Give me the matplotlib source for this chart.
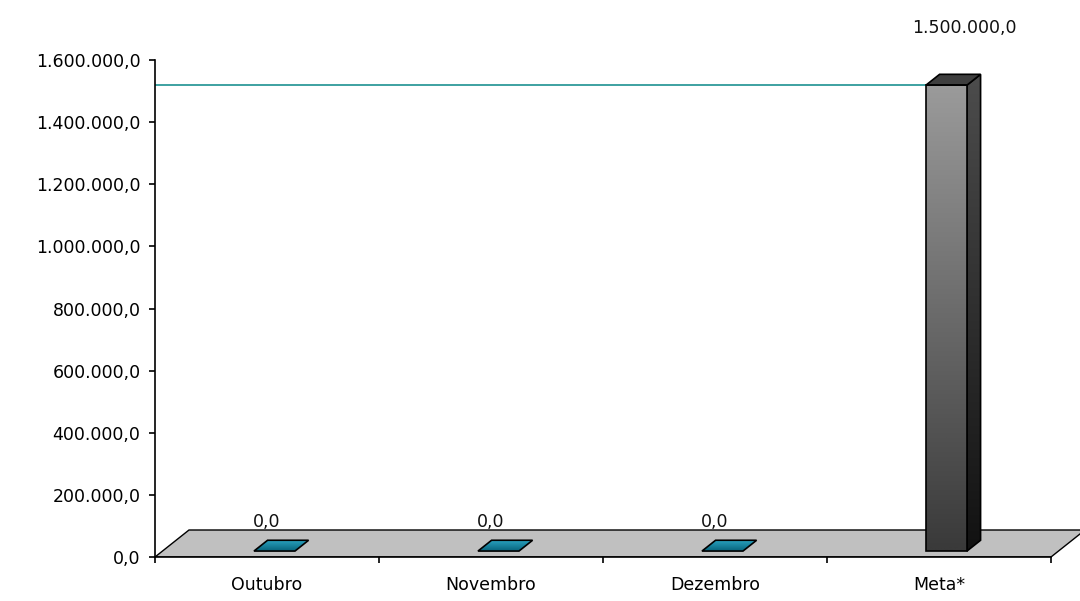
import matplotlib
matplotlib.use("Agg")
import matplotlib.pyplot as plt
import numpy as np
from matplotlib.patches import Polygon
from matplotlib.ticker import FixedLocator, FuncFormatter, NullFormatter

# ---- data ----
categories = ["Outubro", "Novembro", "Dezembro", "Meta*"]
values = [0.0, 0.0, 0.0, 1500000.0]
target = 1500000.0
y_ticks = [0, 200000, 400000, 600000, 800000, 1000000, 1200000, 1400000, 1600000]

plt.rcParams['font.family'] = ['DejaVu Sans']
FS = 12.5

W, H = 1080, 601
fig = plt.figure(figsize=(W / 100, H / 100), dpi=100)
px_cat = 224.0                       # pixels per category
px_val = 1600000.0 / 497.0           # value units per pixel
left_px, right_px, bottom_px, top_px = 155, 1085, 557, 5
ax = fig.add_axes([left_px / W, (H - bottom_px) / H,
                   (right_px - left_px) / W, (bottom_px - top_px) / H])
ax.set_xlim(0, (right_px - left_px) / px_cat)
ax.set_ylim(0, (bottom_px - top_px) * px_val)

DX = 34 / px_cat          # depth offset in x (category units)
DV = 27 * px_val          # depth offset in y (value units)

def proj(x, v, z):
    return (x + z * DX, v + z * DV)

def fmt(v, pos=None):
    s = f"{v:,.1f}"
    return s.replace(",", "X").replace(".", ",").replace("X", ".")

def grad_poly(verts, c_top, c_bot, zorder, lw=1.2):
    verts = np.array(verts)
    poly = Polygon(verts, closed=True, facecolor='none', edgecolor='black',
                   lw=lw, zorder=zorder + 0.1, joinstyle='miter')
    ax.add_patch(poly)
    n = 64
    t = np.linspace(0, 1, n)[:, None]
    ct = np.array(matplotlib.colors.to_rgb(c_top))
    cb = np.array(matplotlib.colors.to_rgb(c_bot))
    img = (cb * (1 - t) + ct * t)[:, None, :]
    im = ax.imshow(img, extent=(verts[:, 0].min(), verts[:, 0].max(),
                                verts[:, 1].min(), verts[:, 1].max()),
                   origin='lower', aspect='auto', zorder=zorder,
                   interpolation='bilinear')
    im.set_clip_path(poly)
    return poly

ncat = len(categories)
# floor
floor = [proj(0, 0, 0), proj(ncat, 0, 0), proj(ncat, 0, 1), proj(0, 0, 1)]
ax.add_patch(Polygon(floor, closed=True, facecolor='#c0c0c0', edgecolor='black',
                     lw=1.0, zorder=1))

bw = 0.183
z0, z1 = 0.22, 0.62
for i, v in enumerate(values):
    xc = i + 0.5
    xl, xr = xc - bw / 2, xc + bw / 2
    if v <= 0:
        top = [proj(xl, 0, z0), proj(xr, 0, z0), proj(xr, 0, z1), proj(xl, 0, z1)]
        grad_poly(top, '#2aa3c0', '#07637c', zorder=3, lw=1.2)
    else:
        front = [proj(xl, 0, z0), proj(xr, 0, z0), proj(xr, v, z0), proj(xl, v, z0)]
        side = [proj(xr, 0, z0), proj(xr, 0, z1), proj(xr, v, z1), proj(xr, v, z0)]
        topf = [proj(xl, v, z0), proj(xr, v, z0), proj(xr, v, z1), proj(xl, v, z1)]
        grad_poly(side, '#4c4c4c', '#121212', zorder=3)
        grad_poly(front, '#9a9a9a', '#3a3a3a', zorder=4)
        ax.add_patch(Polygon(topf, closed=True, facecolor='#3e3e3e',
                             edgecolor='black', lw=1.2, zorder=4))
        # target line up to the bar
        lx, ly = proj(xl, target, z0)
        ax.plot([0, lx], [ly, ly], color='#2e9a9a', lw=1.3, zorder=2,
                solid_capstyle='butt')

# value labels
for i, v in enumerate(values):
    if v <= 0:
        ax.annotate(fmt(v), (i + 0.5, v), xytext=(0, 35), textcoords='offset pixels',
                    ha='center', va='center', fontsize=FS, color='#111111',
                    annotation_clip=False)
    else:
        x, y = proj(i + 0.5 + bw / 2, v, z1)
        ax.annotate(fmt(v), (x, y), xytext=(-16, 46), textcoords='offset pixels',
                    ha='center', va='center', fontsize=FS, color='#111111',
                    annotation_clip=False)

# axes styling
for s in ['top', 'right']:
    ax.spines[s].set_visible(False)
ax.spines['left'].set_bounds(0, y_ticks[-1])
ax.spines['bottom'].set_bounds(0, ncat)
ax.spines['left'].set_linewidth(1.2)
ax.spines['bottom'].set_linewidth(1.2)
ax.spines['left'].set_zorder(5)
ax.spines['bottom'].set_zorder(5)

ax.yaxis.set_major_locator(FixedLocator(y_ticks))
ax.yaxis.set_major_formatter(FuncFormatter(fmt))
ax.tick_params(axis='y', direction='out', length=4.5, width=1.2, pad=6,
               labelsize=FS, colors='black')

ax.xaxis.set_major_locator(FixedLocator(list(range(ncat + 1))))
ax.xaxis.set_major_formatter(NullFormatter())
ax.xaxis.set_minor_locator(FixedLocator([i + 0.5 for i in range(ncat)]))
ax.xaxis.set_minor_formatter(FuncFormatter(lambda x, p: categories[int(x)]))
ax.tick_params(axis='x', which='major', direction='out', length=4.5, width=1.2)
ax.tick_params(axis='x', which='minor', length=0, pad=14, labelsize=FS)

ax.set_facecolor('none')
fig.patch.set_facecolor('white')
fig.savefig("out.png", dpi=100, facecolor='white')
